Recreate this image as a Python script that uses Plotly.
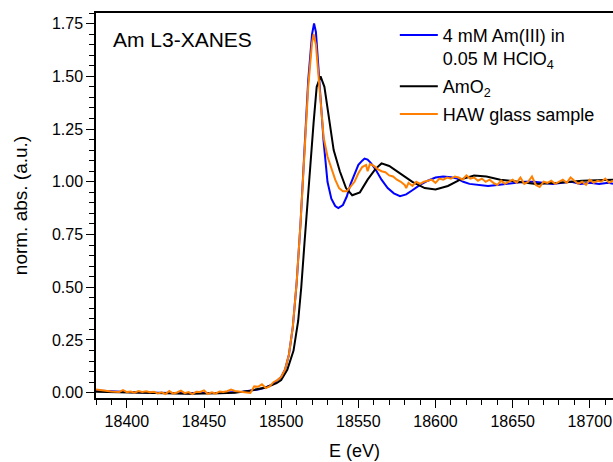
import plotly.graph_objects as go

# Am L3-edge XANES spectra (normalised absorption vs photon energy)

# 4 mM Am(III) in 0.05 M HClO4
e_aq = [18380, 18390, 18400, 18420, 18440, 18460, 18475, 18485, 18490, 18495,
        18500, 18502.5, 18505, 18507.5, 18510, 18512.5, 18515, 18517.5, 18520, 18521.3,
        18522.5, 18525, 18527.5, 18530, 18532.5, 18535, 18537, 18540, 18542.5, 18545,
        18547.5, 18550, 18552.5, 18554, 18556, 18558, 18561, 18565, 18569, 18573,
        18577, 18581, 18585, 18590, 18595, 18600, 18605, 18610, 18614, 18618,
        18622, 18628, 18634, 18640, 18646, 18652, 18658, 18664, 18670, 18676,
        18682, 18688, 18694, 18700, 18706, 18712, 18715]
mu_aq = [0.010, 0.006, 0.003, 0.000, -0.003, 0.000, 0.005, 0.015, 0.025, 0.042,
         0.075, 0.11, 0.18, 0.31, 0.52, 0.80, 1.15, 1.48, 1.70, 1.75,
         1.71, 1.47, 1.19, 1.00, 0.92, 0.885, 0.875, 0.89, 0.93, 0.99,
         1.04, 1.08, 1.10, 1.11, 1.105, 1.09, 1.06, 1.01, 0.97, 0.945,
         0.932, 0.94, 0.96, 0.985, 1.005, 1.02, 1.025, 1.022, 1.015, 1.000,
         0.990, 0.985, 0.980, 0.985, 0.990, 0.995, 1.000, 1.000, 0.995, 0.990,
         0.995, 1.000, 0.990, 0.995, 0.990, 0.995, 0.990]

# AmO2 reference
e_ox = [18380, 18400, 18420, 18440, 18460, 18470, 18480, 18490, 18497, 18500,
        18504, 18508, 18511, 18513, 18515, 18517, 18519, 18521, 18523, 18525.5,
        18528, 18531, 18534, 18538, 18542, 18546, 18551, 18556, 18561, 18565,
        18570, 18577, 18585, 18593, 18600, 18608, 18616, 18625, 18633, 18642,
        18652, 18665, 18680, 18695, 18715]
mu_ox = [0.005, 0.002, 0.000, -0.005, -0.002, 0.000, 0.010, 0.025, 0.045, 0.060,
         0.11, 0.20, 0.34, 0.50, 0.70, 0.90, 1.10, 1.28, 1.45, 1.50,
         1.45, 1.30, 1.15, 1.05, 0.97, 0.936, 0.95, 1.01, 1.06, 1.087,
         1.075, 1.04, 1.00, 0.97, 0.963, 0.98, 1.01, 1.03, 1.025, 1.01,
         1.00, 0.99, 0.995, 1.005, 1.01]

# HAW glass sample
e_haw = [18380, 18382.5, 18385, 18387.5, 18390, 18392.5, 18395, 18397.5, 18400, 18402.5,
         18405, 18407.5, 18410, 18412.5, 18415, 18417.5, 18420, 18422.5, 18425, 18427.5,
         18430, 18432.5, 18435, 18437.5, 18440, 18442.5, 18445, 18447.5, 18450, 18452.5,
         18455, 18457.5, 18460, 18462.5, 18465, 18467.5, 18470, 18472.5, 18475, 18477.5,
         18480, 18482.5, 18485, 18487.5, 18490, 18492.5, 18495, 18497.5, 18500, 18502.5,
         18505, 18507.5, 18510, 18512.5, 18515, 18517.5, 18520, 18521, 18522.5, 18525,
         18527.5, 18530, 18532.5, 18535, 18537.5, 18540, 18542.5, 18545, 18547.5, 18550,
         18552.5, 18555, 18556, 18557.5, 18560, 18562.5, 18565, 18567.5, 18570, 18572.5,
         18575, 18577.5, 18580, 18581, 18582.5, 18585, 18587.5, 18590, 18592.5, 18595,
         18597.5, 18600, 18602.5, 18605, 18607.5, 18610, 18612.5, 18615, 18617.5, 18620,
         18622.5, 18625, 18627.5, 18630, 18632.5, 18635, 18637.5, 18640, 18642.5, 18645,
         18647.5, 18650, 18652.5, 18655, 18657.5, 18660, 18662.5, 18665, 18667.5, 18670,
         18672.5, 18675, 18677.5, 18680, 18682.5, 18685, 18687.5, 18690, 18692.5, 18695,
         18697.5, 18700, 18702.5, 18705, 18707.5, 18710, 18712.5, 18715]
mu_haw = [0.015, 0.012, 0.010, 0.008, 0.006, 0.005, 0.004, 0.012, 0.003, 0.006,
          0.000, 0.008, 0.004, 0.007, 0.002, 0.005, -0.003, 0.002, -0.006, 0.008,
          -0.004, 0.001, 0.010, -0.002, 0.003, -0.007, 0.005, 0.004, 0.011, -0.006,
          0.002, -0.004, 0.006, 0.003, 0.007, 0.015, 0.008, 0.006, 0.004, 0.002,
          -0.001, 0.030, 0.028, 0.040, 0.022, 0.030, 0.050, 0.060, 0.075, 0.11,
          0.18, 0.31, 0.52, 0.80, 1.13, 1.45, 1.66, 1.70, 1.65, 1.42,
          1.21, 1.12, 1.06, 1.01, 0.97, 0.955, 0.955, 0.975, 1.00, 1.04,
          1.07, 1.08, 1.05, 1.085, 1.075, 1.06, 1.05, 1.045, 1.03, 1.025,
          1.01, 1.00, 0.985, 0.97, 0.995, 0.98, 1.00, 0.99, 1.00, 1.005,
          1.01, 0.995, 1.015, 1.01, 1.02, 1.015, 1.025, 1.02, 1.01, 1.03,
          1.015, 1.02, 1.005, 1.015, 1.00, 1.01, 0.995, 0.985, 1.005, 0.99,
          1.00, 1.01, 0.995, 1.02, 0.99, 1.00, 1.025, 0.985, 0.975, 1.00,
          0.995, 1.005, 0.99, 1.00, 1.01, 0.995, 1.02, 1.005, 0.99, 1.00,
          0.985, 1.01, 0.995, 1.005, 1.00, 1.015, 0.995, 1.005]

FONT = "Liberation Sans, Arial, sans-serif"

fig = go.Figure()
fig.add_trace(go.Scatter(x=e_aq, y=mu_aq, mode="lines", legend="legend",
                         name="4 mM Am(III) in<br>0.05 M HClO<sub>4</sub>",
                         line=dict(color="#0000FF", width=2)))
fig.add_trace(go.Scatter(x=e_ox, y=mu_ox, mode="lines", legend="legend2",
                         name="AmO<sub>2</sub>",
                         line=dict(color="#000000", width=2)))
fig.add_trace(go.Scatter(x=e_haw, y=mu_haw, mode="lines", legend="legend3",
                         name="HAW glass sample",
                         line=dict(color="#FF8000", width=2)))

fig.add_annotation(text="Am L3-XANES", xref="paper", yref="paper",
                   x=0.029, y=0.93, xanchor="left", yanchor="middle",
                   showarrow=False, font=dict(size=21, color="black", family=FONT))

legend_style = dict(xanchor="left", yanchor="top", bgcolor="rgba(0,0,0,0)",
                    borderwidth=0, font=dict(size=18, family=FONT), valign="top",
                    itemwidth=38)

fig.update_layout(
    width=613, height=462,
    margin=dict(l=96, r=0, t=13, b=64),
    paper_bgcolor="white", plot_bgcolor="white",
    font=dict(family=FONT, size=16, color="black"),
    showlegend=True,
    legend=dict(x=0.578, y=0.99, **legend_style),
    legend2=dict(x=0.578, y=0.857, **legend_style),
    legend3=dict(x=0.578, y=0.785, **legend_style),
    xaxis=dict(range=[18380, 18715], dtick=50, tick0=18400, tickformat="d",
               showgrid=False, zeroline=False,
               showline=True, linecolor="black", linewidth=1.5, mirror=True,
               ticks="outside", ticklen=8, tickwidth=1.3, tickcolor="black",
               minor=dict(ticks="outside", ticklen=5, dtick=10, tickcolor="black", tickwidth=1.2),
               title=dict(text="E (eV)", font=dict(size=18), standoff=15),
               tickfont=dict(size=16)),
    yaxis=dict(range=[-0.025, 1.80], dtick=0.25, tick0=0, tickformat=".2f",
               showgrid=False, zeroline=False,
               showline=True, linecolor="black", linewidth=1.5, mirror=False,
               ticks="outside", ticklen=8, tickwidth=1.3, tickcolor="black",
               minor=dict(ticks="outside", ticklen=5, dtick=0.05, tickcolor="black", tickwidth=1.2),
               title=dict(text="norm. abs. (a.u.)", font=dict(size=19), standoff=19),
               tickfont=dict(size=16)),
)

fig.write_html("out.html")
